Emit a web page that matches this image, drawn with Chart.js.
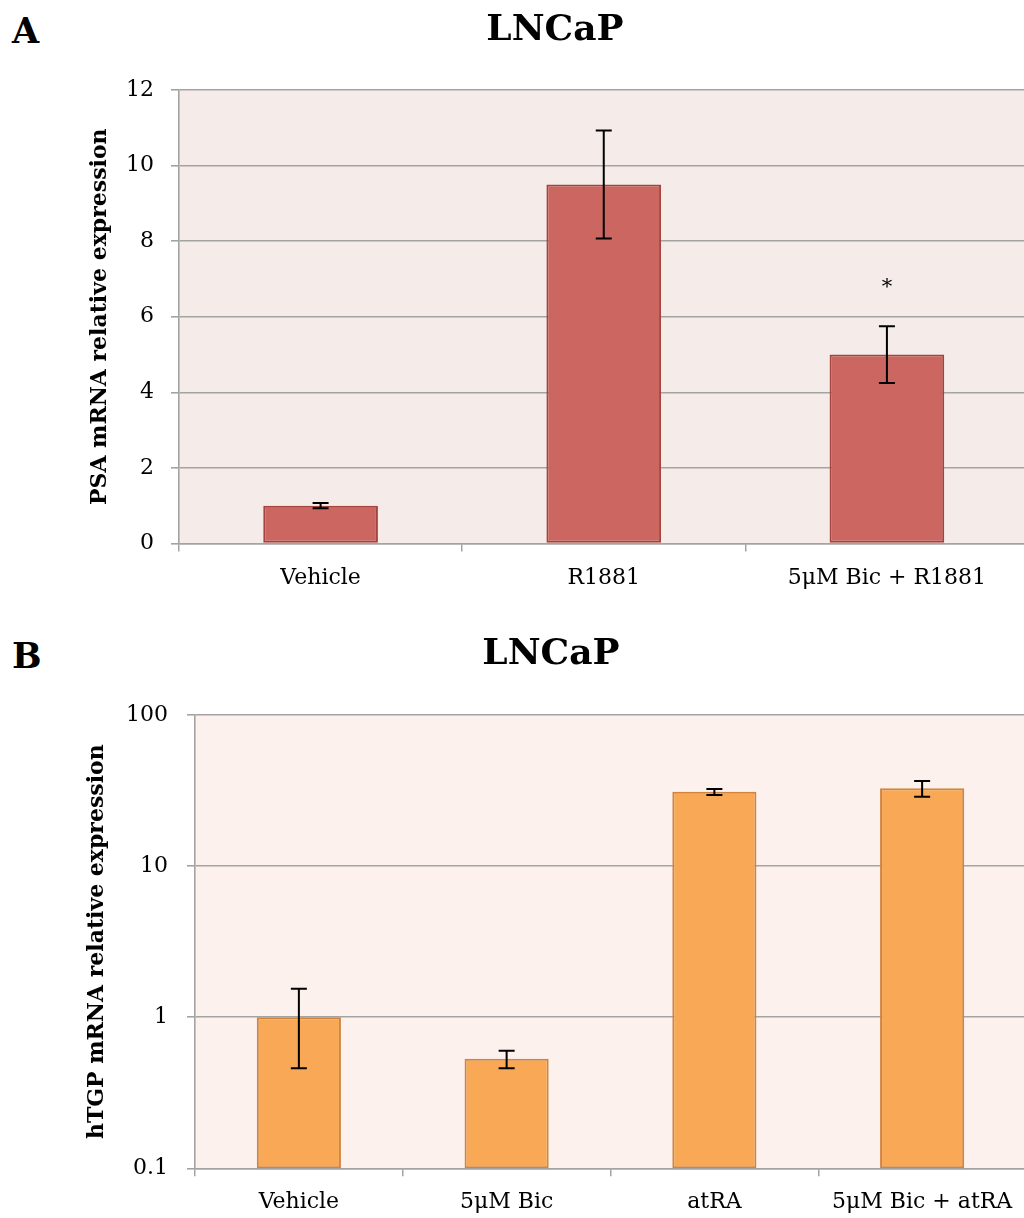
<!DOCTYPE html>
<html><head><meta charset="utf-8">
<script src="https://cdn.jsdelivr.net/npm/chart.js@4"></script>
<style>
html,body{margin:0;padding:0;overflow:hidden;background:#fff;width:1024px;height:1218px}
.panel{position:absolute;left:0;width:1032px}
.lab{position:absolute;left:12px;font-family:'DejaVu Serif';font-weight:bold;font-size:35px;line-height:35px;color:#000}
</style></head><body>
<div class="lab" style="top:13px">A</div>
<div class="panel" style="top:0;height:600px"><canvas id="c1"></canvas></div>
<div class="lab" style="top:638px">B</div>
<div class="panel" style="top:600px;height:618px"><canvas id="c2"></canvas></div>
<script>
// ---- Data ----
const categoriesA = ['Vehicle', 'R1881', '5μM Bic + R1881'];
const psaValues = [1.0, 9.5, 5.0];
const psaErrors = [0.07, 1.43, 0.75];
const psaMarks = ['', '', '*'];
const yTicksA = [0, 2, 4, 6, 8, 10, 12];

const categoriesB = ['Vehicle', '5μM Bic', 'atRA', '5μM Bic + atRA'];
const htgpValues = [1.0, 0.53, 31, 32.7];
const htgpErrors = [0.54, 0.07, 1.4, 3.9];
const yTicksB = [0.1, 1, 10, 100];

// ---- Plugins ----
const plotBg = {
  id: 'plotBg',
  beforeDraw(chart, args, opts) {
    const a = chart.chartArea, ctx = chart.ctx;
    ctx.save(); ctx.fillStyle = opts.color;
    ctx.fillRect(a.left, a.top, a.right - a.left, a.bottom - a.top);
    ctx.restore();
  }
};
const errorBars = {
  id: 'errorBars',
  afterDatasetsDraw(chart, args, opts) {
    const ctx = chart.ctx, y = chart.scales.y, meta = chart.getDatasetMeta(0);
    const vals = chart.data.datasets[0].data;
    ctx.save();
    ctx.strokeStyle = '#000'; ctx.lineWidth = 2;
    meta.data.forEach((bar, i) => {
      const v = vals[i], e = opts.errors[i];
      const yt = y.getPixelForValue(v + e), yb = y.getPixelForValue(v - e);
      const x = bar.x, w = opts.capWidth / 2;
      ctx.beginPath();
      ctx.moveTo(x, yt); ctx.lineTo(x, yb);
      ctx.moveTo(x - w, yt); ctx.lineTo(x + w, yt);
      ctx.moveTo(x - w, yb); ctx.lineTo(x + w, yb);
      ctx.stroke();
      if (opts.marks && opts.marks[i]) {
        ctx.fillStyle = '#000';
        ctx.font = '21px "DejaVu Serif"';
        ctx.textAlign = 'center'; ctx.textBaseline = 'alphabetic';
        ctx.fillText(opts.marks[i], x, yt - opts.markOffset);
      }
    });
    ctx.restore();
  }
};

const GRID = '#a3a3a3';
const tickFont = { family: 'DejaVu Serif', size: 22 };
const axTitleFont = { family: 'DejaVu Serif', size: 22, weight: 'bold' };
const titleFont = { family: 'DejaVu Serif', size: 36, weight: 'bold' };

function makeChart(id, cfg) {
  return new Chart(document.getElementById(id), {
    type: 'bar',
    data: {
      labels: cfg.labels,
      datasets: [{
        data: cfg.values,
        backgroundColor: cfg.fill,
        borderColor: cfg.border,
        borderWidth: 2,
        borderSkipped: false,
        barPercentage: 0.405,
        categoryPercentage: 1
      }]
    },
    options: {
      responsive: true,
      maintainAspectRatio: false,
      animation: false,
      events: [],
      layout: { padding: cfg.padding },
      plugins: {
        legend: { display: false },
        tooltip: { enabled: false },
        title: {
          display: true, text: 'LNCaP', color: '#000', font: titleFont,
          padding: cfg.titlePadding
        },
        plotBg: { color: cfg.bg },
        errorBars: { errors: cfg.errors, marks: cfg.marks, capWidth: 16, markOffset: 33 }
      },
      scales: {
        x: {
          grid: { display: true, drawOnChartArea: false, offset: true, tickLength: 8, color: GRID, lineWidth: 1.5 },
          border: { color: GRID, width: 1.5 },
          ticks: { color: '#000', font: tickFont, padding: cfg.xPad, maxRotation: 0 },
          afterFit(s) { s.height = cfg.xHeight; }
        },
        y: Object.assign({
          grid: { color: GRID, lineWidth: 1.6, tickLength: 8 },
          border: { color: GRID, width: 1.6 },
          ticks: { color: '#000', font: tickFont, padding: cfg.yPad, callback: v => String(v) },
          title: { display: true, text: cfg.yTitle, color: '#000', font: axTitleFont, padding: { top: cfg.yTitlePad, bottom: 0 } },
          afterBuildTicks(s) { s.ticks = cfg.ticks.map(v => ({ value: v })); },
          afterFit(s) { s.width = cfg.yWidth; }
        }, cfg.yExtra)
      }
    },
    plugins: [plotBg, errorBars]
  });
}

makeChart('c1', {
  labels: categoriesA, values: psaValues, errors: psaErrors, marks: psaMarks, ticks: yTicksA,
  fill: '#cc6660', border: '#a5433d', bg: '#f5ecea',
  padding: { left: 81.5, right: 3.5, top: 0, bottom: 0 },
  titlePadding: { top: 9.4, bottom: 37.4 },
  xPad: 14, xHeight: 56.5, yPad: 17, yWidth: 97.5, yTitlePad: 5.5,
  yTitle: 'PSA mRNA relative expression',
  yExtra: { min: 0, max: 12 }
});

makeChart('c2', {
  labels: categoriesB, values: htgpValues, errors: htgpErrors, marks: null, ticks: yTicksB,
  fill: '#f9a855', border: '#d0853f', bg: '#fcf1ec',
  padding: { left: 76, right: 6, top: 0, bottom: 0 },
  titlePadding: { top: 33.4, bottom: 38.4 },
  xPad: 12.5, xHeight: 49.7, yPad: 19, yWidth: 119, yTitlePad: 8.5,
  yTitle: 'hTGP mRNA relative expression',
  yExtra: { type: 'logarithmic', min: 0.1, max: 100 }
});
</script>
</body></html>
